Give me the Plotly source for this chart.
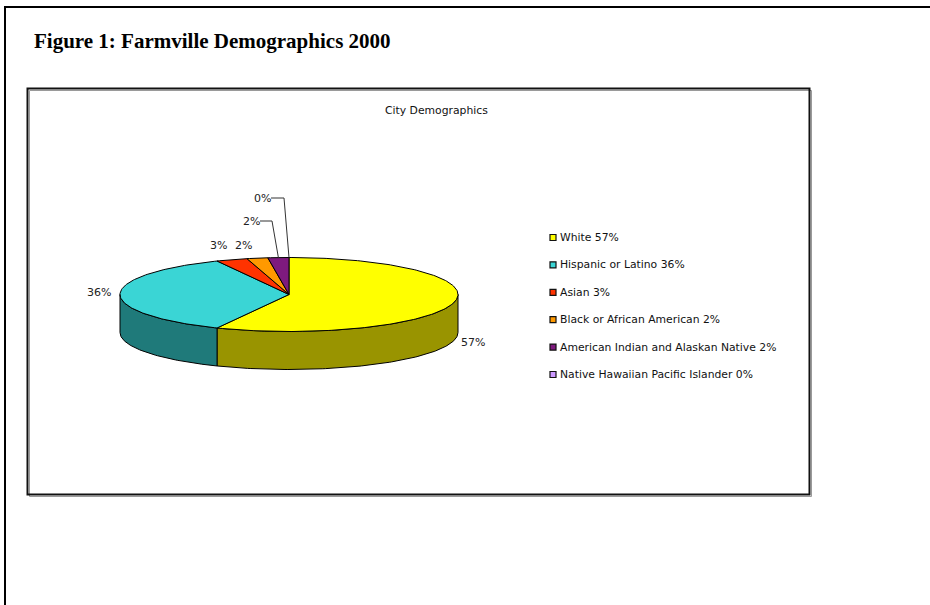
import numpy as np
import plotly.graph_objects as go

# Census 2000 shares for Farmville, in percent
groups = [
    "White",
    "Hispanic or Latino",
    "Asian",
    "Black or African American",
    "American Indian and Alaskan Native",
    "Native Hawaiian Pacific Islander",
]
shares = [57, 36, 3, 2, 2, 0]

top_colors = ["#FFFF00", "#3AD5D5", "#FF3300", "#FF9900", "#7E1A7E", "#CC99FF"]
side_colors = ["#999400", "#1F7A7A", "#992000", "#995C00", "#4C104C", "#7A5C99"]

# Pie geometry (pixel units on a 930x605 canvas)
CX, CY = 289.0, 294.5
RX, RY = 169.0, 37.0
DEPTH = 38.0

W, H = 930, 605
fig = go.Figure()


def arc(a0, a1, dy=0.0):
    t = np.radians(np.linspace(a0, a1, max(2, int(abs(a1 - a0) / 1.0) + 2)))
    return CX + RX * np.sin(t), CY - RY * np.cos(t) + dy


total = float(sum(shares))
bounds = np.concatenate([[0.0], np.cumsum(shares) / total * 360.0])

# Side walls: only the front half (90..270 deg clockwise from 12 o'clock) is visible
for i, v in enumerate(shares):
    a0, a1 = bounds[i], bounds[i + 1]
    lo, hi = max(a0, 90.0), min(a1, 270.0)
    if hi - lo <= 0:
        continue
    xt, yt = arc(lo, hi)
    xb, yb = arc(lo, hi, dy=DEPTH)
    xs = np.concatenate([xt, xb[::-1], xt[:1]])
    ys = np.concatenate([yt, yb[::-1], yt[:1]])
    fig.add_trace(go.Scatter(x=xs, y=ys, mode="lines", fill="toself",
                             fillcolor=side_colors[i],
                             line=dict(color="#000000", width=1),
                             hoverinfo="skip", showlegend=False))

# Top faces
for i, v in enumerate(shares):
    a0, a1 = bounds[i], bounds[i + 1]
    if a1 - a0 <= 0:
        continue
    xa, ya = arc(a0, a1)
    xs = np.concatenate([[CX], xa, [CX]])
    ys = np.concatenate([[CY], ya, [CY]])
    fig.add_trace(go.Scatter(x=xs, y=ys, mode="lines", fill="toself",
                             fillcolor=top_colors[i],
                             line=dict(color="#000000", width=1),
                             hoverinfo="skip", showlegend=False))

# Data labels: text position for each slice, and an optional leader elbow
label_pos = [(473, 342), (99, 292), (218, 245), (243, 245), (251, 221), (262, 198)]
leader_elbow = [None, None, None, None, (272, 221), (284, 198)]

for i, v in enumerate(shares):
    lx, ly = label_pos[i]
    fig.add_annotation(x=lx, y=ly, text=f"{v}%", showarrow=False,
                       font=dict(family="DejaVu Sans", size=11, color="#222222"))
    if leader_elbow[i] is not None:
        mid = (bounds[i] + bounds[i + 1]) / 2.0
        ax, ay = arc(mid, mid)
        ex, ey = leader_elbow[i]
        fig.add_trace(go.Scatter(x=[lx + 9, ex, ax[0]], y=[ly, ey, ay[0]],
                                 mode="lines", line=dict(color="#333333", width=1),
                                 hoverinfo="skip", showlegend=False))

# Legend
LEG_X, LEG_Y0, LEG_DY = 553, 237.5, 27.4
fig.add_trace(go.Scatter(
    x=[LEG_X] * len(groups),
    y=[LEG_Y0 + k * LEG_DY for k in range(len(groups))],
    mode="markers",
    marker=dict(symbol="square", size=6, color=top_colors,
                line=dict(color="#111111", width=1.2)),
    hoverinfo="skip", showlegend=False))
for k, (g, v) in enumerate(zip(groups, shares)):
    fig.add_annotation(x=LEG_X + 5, y=LEG_Y0 + k * LEG_DY, text=f"{g} {v}%",
                       xanchor="left", showarrow=False,
                       font=dict(family="DejaVu Sans", size=10.8, color="#111111"))

# Chart title inside the plot frame
fig.add_annotation(x=436, y=110, text="City Demographics", showarrow=False,
                   font=dict(family="DejaVu Sans", size=10.8, color="#111111"))

# Figure heading
fig.add_annotation(x=32, y=41, text="<b>Figure 1: Farmville Demographics 2000</b>",
                   xanchor="left", showarrow=False,
                   font=dict(family="Liberation Serif", size=21, color="#000000"))

shapes = [
    # page frame (left and top rules)
    dict(type="line", x0=5, x1=5, y0=6, y1=H, line=dict(color="#000", width=2)),
    dict(type="line", x0=4, x1=W, y0=7, y1=7, line=dict(color="#000", width=2)),
    # chart frame with soft shadow
    dict(type="rect", x0=29.5, y0=90.5, x1=811.5, y1=496.5,
         line=dict(color="#9a9a9a", width=1)),
    dict(type="rect", x0=27.5, y0=88.5, x1=809.5, y1=494.5,
         line=dict(color="#111111", width=2)),
]

fig.update_layout(
    width=W, height=H,
    margin=dict(l=0, r=0, t=0, b=0),
    paper_bgcolor="white", plot_bgcolor="white",
    xaxis=dict(range=[0, W], visible=False, fixedrange=True),
    yaxis=dict(range=[H, 0], visible=False, fixedrange=True),
    shapes=shapes,
    showlegend=False,
)

fig.write_html("out.html")
